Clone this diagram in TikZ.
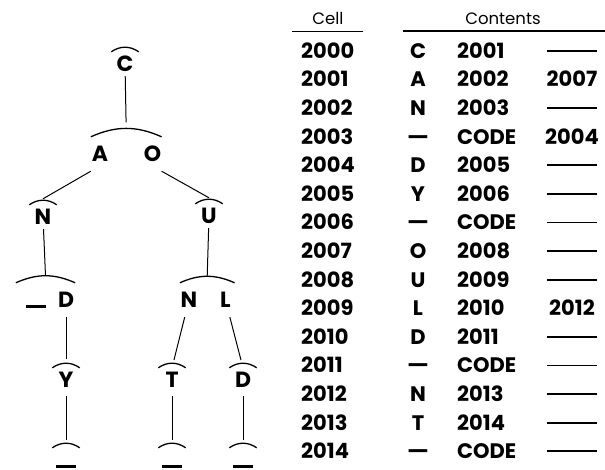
\documentclass[tikz,border=0pt]{standalone}
\usepackage{fontspec}
\setmainfont{Poppins}
\usetikzlibrary{positioning}

\newcommand{\nolink}{\rule[6.5pt]{50pt}{1.8pt}}
\newcommand{\stopmark}{\rule{20pt}{2.2pt}}
\newcommand{\blank}{\scalebox{1.6}[1]{\textendash}}

\begin{document}
\begin{tikzpicture}[x=1pt,y=-1pt,
  letter/.style={font=\fontsize{22}{26}\selectfont\bfseries, inner sep=0pt, text height=15pt, text depth=0pt},
  single/.style={letter, minimum width=27pt, minimum height=24pt},
  pair/.style={letter, minimum width=18pt, minimum height=34pt},
  entry/.style={font=\fontsize{21}{24}\selectfont\bfseries, inner sep=0pt, text height=14.5pt, text depth=0pt},
  head/.style={font=\fontsize{16.5}{20}\selectfont, inner sep=0pt, text height=12pt, text depth=0pt},
  hood/.style={line width=1.3pt, bend left=35},
  link/.style={line width=1pt}]
\useasboundingbox (0,0) rectangle (605,469);

% tree
\node[single] (c) at (125,64) {C};
\node[pair] (a) at (100,154) {A};
\node[pair, right=34pt of a] (o) {O};
\node[single] (n) at (43,217) {N};
\node[single] (u) at (209,216) {U};
\node[pair, minimum width=40pt] (e0) at (36,300) {\stopmark};
\node[pair] (d1) at (66,300) {D};
\node[single] (y1) at (66,380) {Y};
\node[single] (e1) at (66,460) {\stopmark};
\node[pair] (n2) at (189,300) {N};
\node[pair, right=18pt of n2] (l) {L};
\node[single] (t) at (172,380) {T};
\node[single] (d2) at (243,380) {D};
\node[single] (e2) at (172,460) {\stopmark};
\node[single] (e3) at (243,460) {\stopmark};

\foreach \nd in {c,n,u,y1,t,d2,e1,e2,e3}
  \draw[hood] (\nd.north west) to (\nd.north east);
\draw[hood, bend left=24] (a.north west) to coordinate[midway] (ao) (o.north east);
\draw[hood, bend left=24] (e0.north west) to coordinate[midway] (dd) (d1.north east);
\draw[hood, bend left=24] (n2.north west) to coordinate[midway] (nl) (l.north east);

\draw[link, shorten >=6pt] (c) -- (ao);
\draw[link] (a.south west) -- ([yshift=6pt]n.north);
\draw[link] (o.south east) -- ([yshift=6pt]u.north);
\draw[link] (n) -- (dd);
\draw[link] (u) -- (nl);
\draw[link, shorten >=9pt] (d1) -- (y1.north);
\draw[link, shorten >=8pt] (n2) -- (t.north);
\draw[link, shorten >=8pt] (l) -- (d2.north);
\draw[link, shorten <=4pt, shorten >=8pt] (y1) -- (e1.north);
\draw[link, shorten <=4pt, shorten >=8pt] (t) -- (e2.north);
\draw[link, shorten <=4pt, shorten >=8pt] (d2) -- (e3.north);

% table
\node[head] (cellhead) at (328,18) {Cell};
\node[head] (conthead) at (503,18) {Contents};
\draw[line width=1.8pt] (292,31.5) -- (363,31.5);
\draw[line width=1.8pt] (403,31) -- (605,31);

\foreach \cellno/\sym/\nxt/\alt [count=\i from 0] in {
  2000/C/2001/\nolink, 2001/A/2002/2007, 2002/N/2003/\nolink,
  2003/\blank/CODE/2004, 2004/D/2005/\nolink, 2005/Y/2006/\nolink,
  2006/\blank/CODE/\nolink, 2007/O/2008/\nolink, 2008/U/2009/\nolink,
  2009/L/2010/2012, 2010/D/2011/\nolink, 2011/\blank/CODE/\nolink,
  2012/N/2013/\nolink, 2013/T/2014/\nolink, 2014/\blank/CODE/\nolink}
{
  \node[entry, anchor=west] (cell-\i) at (301, 51+28.6*\i) {\cellno};
  \node[entry] (sym-\i) at (418, 51+28.6*\i) {\sym};
  \node[entry, anchor=west] (nxt-\i) at (457, 51+28.6*\i) {\nxt};
  \node[entry] (alt-\i) at (572, 51+28.6*\i) {\alt};
}
\end{tikzpicture}
\end{document}
